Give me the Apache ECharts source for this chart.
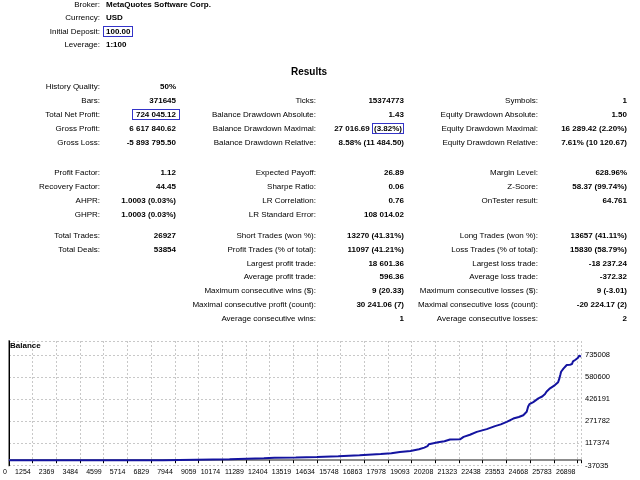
<!DOCTYPE html>
<html>
<head>
<meta charset="utf-8">
<script src="https://cdn.jsdelivr.net/npm/echarts@6/dist/echarts.min.js"></script>
<style>
body { margin:0; background:#fff; }
#page { position:relative; width:640px; height:480px; overflow:hidden; font-family:"Liberation Sans", Arial, sans-serif; font-size:8px; color:#000; }
#chart { position:absolute; left:0; top:0; width:640px; height:480px; }
.t { position:absolute; white-space:nowrap; line-height:10px; height:10px; }
.b { font-weight:bold; }
.box { border:1px solid #3434c8; padding:0 2px; }
</style>
</head>
<body>
<div id="page">
<div id="chart"></div>
</div>
<script>
// header rows: label, value, y
var headLabels = ['Broker:', 'Currency:', 'Initial Deposit:', 'Leverage:'];
var headValues = ['MetaQuotes Software Corp.', 'USD', '100.00', '1:100'];
var headY = [4.5, 17.5, 31.5, 45];

// results table columns
var leftLabels = ['History Quality:', 'Bars:', 'Total Net Profit:', 'Gross Profit:', 'Gross Loss:',
	'Profit Factor:', 'Recovery Factor:', 'AHPR:', 'GHPR:', 'Total Trades:', 'Total Deals:'];
var leftValues = ['50%', '371645', '724 045.12', '6 617 840.62', '-5 893 795.50',
	'1.12', '44.45', '1.0003 (0.03%)', '1.0003 (0.03%)', '26927', '53854'];
var leftY = [87, 101, 115, 129, 143, 173, 187, 201, 215, 236, 250];

var midLabels = ['Ticks:', 'Balance Drawdown Absolute:', 'Balance Drawdown Maximal:', 'Balance Drawdown Relative:',
	'Expected Payoff:', 'Sharpe Ratio:', 'LR Correlation:', 'LR Standard Error:',
	'Short Trades (won %):', 'Profit Trades (% of total):', 'Largest profit trade:', 'Average profit trade:',
	'Maximum consecutive wins ($):', 'Maximal consecutive profit (count):', 'Average consecutive wins:'];
var midValues = ['15374773', '1.43', '27 016.69 (3.82%)', '8.58% (11 484.50)',
	'26.89', '0.06', '0.76', '108 014.02',
	'13270 (41.31%)', '11097 (41.21%)', '18 601.36', '596.36',
	'9 (20.33)', '30 241.06 (7)', '1'];
var midY = [101, 115, 129, 143, 173, 187, 201, 215, 236, 250, 263.5, 277, 291, 305, 319];

var rightLabels = ['Symbols:', 'Equity Drawdown Absolute:', 'Equity Drawdown Maximal:', 'Equity Drawdown Relative:',
	'Margin Level:', 'Z-Score:', 'OnTester result:',
	'Long Trades (won %):', 'Loss Trades (% of total):', 'Largest loss trade:', 'Average loss trade:',
	'Maximum consecutive losses ($):', 'Maximal consecutive loss (count):', 'Average consecutive losses:'];
var rightValues = ['1', '1.50', '16 289.42 (2.20%)', '7.61% (10 120.67)',
	'628.96%', '58.37 (99.74%)', '64.761',
	'13657 (41.11%)', '15830 (58.79%)', '-18 237.24', '-372.32',
	'9 (-3.01)', '-20 224.17 (2)', '2'];
var rightY = [101, 115, 129, 143, 173, 187, 201, 236, 250, 263.5, 277, 291, 305, 319];

// balance chart
var xTickLabels = ['0', '1254', '2369', '3484', '4599', '5714', '6829', '7944', '9059', '10174', '11289', '12404',
	'13519', '14634', '15748', '16863', '17978', '19093', '20208', '21323', '22438', '23553', '24668', '25783', '26898'];
var yTickLabels = ['-37035', '117374', '271782', '426191', '580600', '735008'];
var tradeNo = [0, 7250, 7290, 10380, 10420, 12000, 12500, 13500, 14500, 15500, 16500, 17500, 18000, 18400,
	18900, 19300, 19550, 19700, 19760, 20200, 20500, 20760, 21230, 21300, 21400, 21700, 22020, 22490,
	22880, 23150, 23430, 23740, 24000, 24210, 24370, 24440, 24500, 24680, 24920, 25100, 25235, 25300,
	25470, 25550, 25700, 25850, 25900, 25960, 25990, 26100, 26256, 26400, 26500, 26550, 26650, 26700,
	26760, 26850, 26900, 26927];
var balance = [100, 100, 6000, 6500, 11500, 13000, 17000, 19000, 23000, 28000, 35000, 43000, 48000, 58000,
	65000, 76000, 88000, 98000, 112000, 125000, 132000, 145000, 146000, 155000, 163000, 178000, 198000, 217000,
	238000, 250000, 268000, 291000, 302000, 314000, 338000, 375000, 392000, 406000, 432000, 445000, 462000, 478000,
	502000, 505000, 525000, 545000, 566000, 600000, 618000, 640000, 665000, 666000, 672000, 690000, 700000, 710000,
	712000, 730000, 735008, 724145];

var xStep = 1115, xMax = 26927;
var yMin = -37035, yStep = 154408.6, yMax = 832800;

function addText(txt, css, bold) {
	var d = document.createElement('div');
	d.className = 't' + (bold ? ' b' : '');
	d.style.cssText = css;
	d.innerHTML = txt;
	document.getElementById('page').appendChild(d);
}
function addColumn(labels, values, ys, labelRight, valueRight) {
	for (var i = 0; i < labels.length; i++) {
		addText(labels[i], 'right:' + (640 - labelRight) + 'px;top:' + (ys[i] - 5) + 'px;', false);
		var v = values[i], r = valueRight;
		if (v == '724 045.12') { v = '<span class="box" style="padding:0 3px 0 3px">' + v + '</span>'; r = valueRight + 4; }
		if (v == '27 016.69 (3.82%)') { v = '27 016.69 <span class="box" style="padding:0 1px">(3.82%)</span>'; }
		addText(v, 'right:' + (640 - r) + 'px;top:' + (ys[i] - 5) + 'px;', true);
	}
}

for (var i = 0; i < headLabels.length; i++) {
	addText(headLabels[i], 'right:540px;top:' + (headY[i] - 5) + 'px;', false);
	var hv = headValues[i];
	if (hv == '100.00') {
		addText('<span class="box">' + hv + '</span>', 'left:103px;top:' + (headY[i] - 5) + 'px;', true);
	} else {
		addText(hv, 'left:106px;top:' + (headY[i] - 5) + 'px;', true);
	}
}
addText('Results', 'left:0;width:618px;text-align:center;top:66px;font-size:10px;line-height:12px;height:12px;', true);
addColumn(leftLabels, leftValues, leftY, 100, 176);
addColumn(midLabels, midValues, midY, 316, 404);
addColumn(rightLabels, rightValues, rightY, 538, 627);

var points = [];
for (var i = 0; i < tradeNo.length; i++) {
	points.push([tradeNo[i], balance[i]]);
}

var myChart = echarts.init(document.getElementById('chart'));
var gridLine = { show: true, lineStyle: { color: '#c8c8c8', type: [2, 2], width: 1 } };
var option = {
	animation: false,
	backgroundColor: '#fff',
	textStyle: { fontFamily: 'Liberation Sans' },
	title: {
		text: 'Balance',
		left: 10,
		top: 342,
		padding: 0,
		textStyle: { fontSize: 8, fontWeight: 'bold', color: '#000', fontFamily: 'Liberation Sans' }
	},
	grid: { left: 9, top: 341, right: 59, bottom: 14.5, containLabel: false },
	xAxis: [
		{
			type: 'value', min: 0, max: xMax, interval: xStep, position: 'bottom',
			axisLine: { show: true, lineStyle: { color: '#000', width: 1 } },
			axisTick: { show: true, length: 3, lineStyle: { color: '#000' } },
			axisLabel: {
				color: '#000', fontSize: 7, margin: 3, align: 'right', padding: [0, 2, 0, 0],
				fontFamily: 'Liberation Sans',
				formatter: function (v) {
					var k = Math.round(v / xStep);
					return (Math.abs(v - k * xStep) < 1 && k < xTickLabels.length) ? xTickLabels[k] : '';
				}
			},
			splitLine: gridLine
		},
		{
			type: 'value', min: 0, max: xMax, position: 'top',
			axisLine: { show: true, lineStyle: { color: '#8c8c8c', width: 2 } },
			axisTick: { show: false }, axisLabel: { show: false }, splitLine: { show: false }
		}
	],
	yAxis: [
		{
			type: 'value', min: yMin, max: yMax, interval: yStep, position: 'right',
			axisLine: { show: true, lineStyle: { color: '#8c8c8c', width: 2 } },
			axisTick: { show: false },
			axisLabel: {
				color: '#000', fontSize: 7.5, margin: 4, fontFamily: 'Liberation Sans',
				formatter: function (v) {
					var k = Math.round((v - yMin) / yStep);
					return (Math.abs(v - (yMin + k * yStep)) < 1 && k < yTickLabels.length) ? yTickLabels[k] : '';
				}
			},
			splitLine: gridLine
		},
		{
			type: 'value', min: yMin, max: yMax, position: 'left',
			axisLine: { show: true, lineStyle: { color: '#000', width: 1 } },
			axisTick: { show: false }, axisLabel: { show: false }, splitLine: { show: false }
		}
	],
	series: [
		{
			name: 'Balance',
			type: 'line',
			xAxisIndex: 0,
			yAxisIndex: 0,
			showSymbol: false,
			lineStyle: { color: '#1414a0', width: 2 },
			data: points
		}
	]
};
myChart.setOption(option, true);
</script>
</body>
</html>
